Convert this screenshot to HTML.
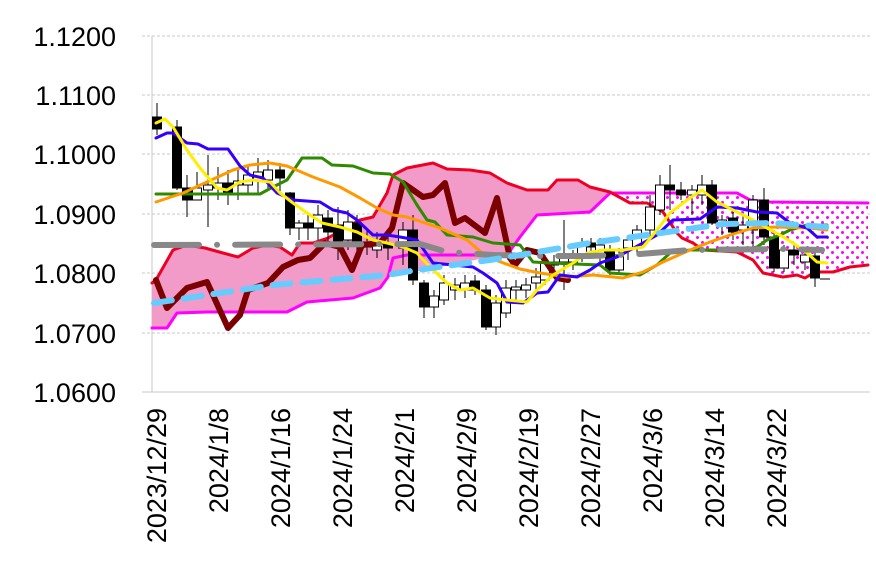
<!DOCTYPE html>
<html><head><meta charset="utf-8"><style>
html,body{margin:0;padding:0;background:#fff;}
svg{display:block;}
text{font-family:"Liberation Sans",Arial,sans-serif;fill:#000;}
</style></head><body>
<svg width="876" height="565" viewBox="0 0 876 565" xmlns="http://www.w3.org/2000/svg">
<defs>
<pattern id="dots" width="10" height="10" patternUnits="userSpaceOnUse">
<rect width="10" height="10" fill="#fff"/>
<circle cx="2.5" cy="2.5" r="1.5" fill="#ff00ff"/>
<circle cx="7.5" cy="7.5" r="1.5" fill="#ff00ff"/>
</pattern>
<clipPath id="cl"><rect x="150" y="0" width="460" height="400"/></clipPath>
<clipPath id="cr"><rect x="610" y="0" width="270" height="400"/></clipPath>
</defs>
<g stroke="#c8c8c8" stroke-width="1" stroke-dasharray="3,2">
<line x1="142" y1="36" x2="870" y2="36"/>
<line x1="142" y1="95" x2="870" y2="95"/>
<line x1="142" y1="154" x2="870" y2="154"/>
<line x1="142" y1="214" x2="870" y2="214"/>
<line x1="142" y1="273" x2="870" y2="273"/>
<line x1="142" y1="333" x2="870" y2="333"/>
</g>
<line x1="142" y1="392" x2="870" y2="392" stroke="#c8c8c8"/>
<line x1="152" y1="36" x2="152" y2="392" stroke="#c8c8c8"/>
<g font-size="27" text-anchor="end">
<text x="116" y="46">1.1200</text>
<text x="116" y="105">1.1100</text>
<text x="116" y="164">1.1000</text>
<text x="116" y="224">1.0900</text>
<text x="116" y="283">1.0800</text>
<text x="116" y="343">1.0700</text>
<text x="116" y="402">1.0600</text>
</g>
<g font-size="27" text-anchor="end">
<text transform="translate(166,408) rotate(-90)">2023/12/29</text>
<text transform="translate(228,408) rotate(-90)">2024/1/8</text>
<text transform="translate(290,408) rotate(-90)">2024/1/16</text>
<text transform="translate(352,408) rotate(-90)">2024/1/24</text>
<text transform="translate(414,408) rotate(-90)">2024/2/1</text>
<text transform="translate(476,408) rotate(-90)">2024/2/9</text>
<text transform="translate(538,408) rotate(-90)">2024/2/19</text>
<text transform="translate(600,408) rotate(-90)">2024/2/27</text>
<text transform="translate(662,408) rotate(-90)">2024/3/6</text>
<text transform="translate(724,408) rotate(-90)">2024/3/14</text>
<text transform="translate(786,408) rotate(-90)">2024/3/22</text>
</g>
<polygon clip-path="url(#cl)" fill="#f29ac8" points="152,283 156,280 173,250 187,245 205,248 223,253 238,257 253,248 267,245 280,247 292,255 300,243 313,243 328,238 347,227 360,220 373,217 387,193 393,175 407,168 433,163 447,169 470,170 490,173 507,183 527,190 548,190 557,180 578,180 590,187 610,192 630,203 647,203 663,212 677,233 682,238 693,243 703,250 737,252 753,260 763,273 783,277 797,275 805,278 815,272 833,272 850,267 868,265 868,203 770,202 750,200 737,193 610,193 590,212 537,215 503,257 490,257 388,277 380,288 353,298 307,302 287,312 207,312 177,313 167,328 152,328"/>
<polygon clip-path="url(#cr)" fill="url(#dots)" points="610,192 630,203 647,203 663,212 677,233 682,238 693,243 703,250 737,252 753,260 763,273 783,277 797,275 805,278 815,272 833,272 850,267 868,265 868,203 770,202 750,200 737,193 610,193"/>
<g fill="none" stroke-linejoin="round" stroke-linecap="round">
<polyline stroke="#ff00ff" stroke-width="3" points="152,328 167,328 177,313 207,312 287,312 307,302 353,298 380,288 388,277 393,258 407,255 507,255 520,237 537,215 590,212 610,193 737,193 750,200 770,202 868,203"/>
<polyline stroke="#ee0022" stroke-width="3" points="152,283 156,280 173,250 187,245 205,248 223,253 238,257 253,248 267,245 280,247 292,255 300,243 313,243 328,238 347,227 360,220 373,217 387,193 393,175 407,168 433,163 447,169 470,170 490,173 507,183 527,190 548,190 557,180 578,180 590,187 610,192 630,203 647,203 663,212 677,233 682,238 693,243 703,250 737,252 753,260 763,273 783,277 797,275 805,278 815,272 833,272 850,267 868,265"/>
</g>
<g stroke="#000" stroke-width="1">
<line x1="157" y1="103" x2="157" y2="135"/><rect x="152.5" y="117" width="9" height="12" fill="#000"/>
<line x1="177" y1="120" x2="177" y2="190"/><rect x="172.5" y="127" width="9" height="61" fill="#000"/>
<line x1="187" y1="175" x2="187" y2="217"/><rect x="182.5" y="188" width="9" height="12" fill="#000"/>
<line x1="197" y1="172" x2="197" y2="200"/><rect x="192.5" y="188" width="9" height="12" fill="#fff"/>
<line x1="208" y1="155" x2="208" y2="227"/><rect x="203.5" y="185" width="9" height="5" fill="#fff"/>
<line x1="218" y1="167" x2="218" y2="200"/><rect x="213.5" y="183" width="9" height="5" fill="#fff"/>
<line x1="228" y1="170" x2="228" y2="205"/><rect x="223.5" y="183" width="9" height="10" fill="#000"/>
<line x1="238" y1="168" x2="238" y2="200"/><rect x="233.5" y="181" width="9" height="4" fill="#fff"/>
<line x1="248" y1="165" x2="248" y2="195"/><rect x="243.5" y="175" width="9" height="10" fill="#fff"/>
<line x1="258" y1="158" x2="258" y2="195"/><rect x="253.5" y="172" width="9" height="8" fill="#fff"/>
<line x1="268" y1="160" x2="268" y2="190"/><rect x="263.5" y="170" width="9" height="10" fill="#fff"/>
<line x1="280" y1="163" x2="280" y2="195"/><rect x="275.5" y="170" width="9" height="8" fill="#000"/>
<line x1="290" y1="192" x2="290" y2="235"/><rect x="285.5" y="193" width="9" height="35" fill="#000"/>
<line x1="299" y1="220" x2="299" y2="240"/><rect x="294.5" y="223" width="9" height="5" fill="#fff"/>
<line x1="308" y1="215" x2="308" y2="240"/><rect x="303.5" y="223" width="9" height="5" fill="#000"/>
<line x1="318" y1="205" x2="318" y2="240"/><rect x="313.5" y="215" width="9" height="13" fill="#fff"/>
<line x1="328" y1="210" x2="328" y2="245"/><rect x="323.5" y="218" width="9" height="14" fill="#000"/>
<line x1="338" y1="207" x2="338" y2="260"/><rect x="333.5" y="225" width="9" height="17" fill="#000"/>
<line x1="348" y1="210" x2="348" y2="250"/><rect x="343.5" y="222" width="9" height="18" fill="#fff"/>
<line x1="357" y1="215" x2="357" y2="262"/><rect x="352.5" y="223" width="9" height="22" fill="#000"/>
<line x1="367" y1="230" x2="367" y2="255"/><rect x="362.5" y="242" width="9" height="5" fill="#000"/>
<line x1="377" y1="232" x2="377" y2="258"/><rect x="372.5" y="244" width="9" height="6" fill="#fff"/>
<line x1="388" y1="230" x2="388" y2="260"/><rect x="383.5" y="244" width="9" height="4" fill="#000"/>
<line x1="403" y1="222" x2="403" y2="265"/><rect x="398.5" y="230" width="9" height="18" fill="#fff"/>
<line x1="413" y1="215" x2="413" y2="285"/><rect x="408.5" y="230" width="9" height="50" fill="#000"/>
<line x1="424" y1="280" x2="424" y2="318"/><rect x="419.5" y="283" width="9" height="24" fill="#000"/>
<line x1="434" y1="290" x2="434" y2="318"/><rect x="429.5" y="296" width="9" height="11" fill="#fff"/>
<line x1="444" y1="275" x2="444" y2="305"/><rect x="439.5" y="283" width="9" height="17" fill="#fff"/>
<line x1="455" y1="278" x2="455" y2="300"/><rect x="450.5" y="285" width="9" height="5" fill="#fff"/>
<line x1="465" y1="275" x2="465" y2="298"/><rect x="460.5" y="283" width="9" height="7" fill="#fff"/>
<line x1="475" y1="275" x2="475" y2="295"/><rect x="470.5" y="281" width="9" height="9" fill="#000"/>
<line x1="486" y1="285" x2="486" y2="330"/><rect x="481.5" y="290" width="9" height="37" fill="#000"/>
<line x1="496" y1="295" x2="496" y2="335"/><rect x="491.5" y="303" width="9" height="24" fill="#fff"/>
<line x1="506" y1="280" x2="506" y2="318"/><rect x="501.5" y="288" width="9" height="25" fill="#fff"/>
<line x1="516" y1="280" x2="516" y2="300"/><rect x="511.5" y="287" width="9" height="3" fill="#fff"/>
<line x1="526" y1="278" x2="526" y2="298"/><rect x="521.5" y="285" width="9" height="5" fill="#fff"/>
<line x1="536" y1="268" x2="536" y2="290"/><rect x="531.5" y="277" width="9" height="6" fill="#fff"/>
<line x1="545" y1="255" x2="545" y2="285"/><rect x="540.5" y="262" width="9" height="18" fill="#fff"/>
<line x1="554" y1="255" x2="554" y2="272"/><rect x="549.5" y="262" width="9" height="3" fill="#fff"/>
<line x1="564" y1="220" x2="564" y2="290"/><rect x="559.5" y="258" width="9" height="4" fill="#fff"/>
<line x1="573" y1="250" x2="573" y2="270"/><rect x="568.5" y="258" width="9" height="4" fill="#fff"/>
<line x1="582" y1="238" x2="582" y2="262"/><rect x="577.5" y="245" width="9" height="10" fill="#fff"/>
<line x1="591" y1="238" x2="591" y2="255"/><rect x="586.5" y="243" width="9" height="4" fill="#000"/>
<line x1="600" y1="238" x2="600" y2="262"/><rect x="595.5" y="245" width="9" height="10" fill="#fff"/>
<line x1="610" y1="245" x2="610" y2="275"/><rect x="605.5" y="250" width="9" height="20" fill="#000"/>
<line x1="619" y1="248" x2="619" y2="275"/><rect x="614.5" y="255" width="9" height="15" fill="#fff"/>
<line x1="628" y1="235" x2="628" y2="260"/><rect x="623.5" y="240" width="9" height="8" fill="#fff"/>
<line x1="637" y1="225" x2="637" y2="255"/><rect x="632.5" y="230" width="9" height="18" fill="#fff"/>
<line x1="650" y1="195" x2="650" y2="240"/><rect x="645.5" y="207" width="9" height="23" fill="#fff"/>
<line x1="660" y1="175" x2="660" y2="215"/><rect x="655.5" y="185" width="9" height="25" fill="#fff"/>
<line x1="670" y1="165" x2="670" y2="210"/><rect x="665.5" y="185" width="9" height="5" fill="#000"/>
<line x1="681" y1="182" x2="681" y2="200"/><rect x="676.5" y="190" width="9" height="5" fill="#000"/>
<line x1="692" y1="185" x2="692" y2="215"/><rect x="687.5" y="190" width="9" height="5" fill="#fff"/>
<line x1="702" y1="175" x2="702" y2="205"/><rect x="697.5" y="185" width="9" height="10" fill="#fff"/>
<line x1="712" y1="180" x2="712" y2="225"/><rect x="707.5" y="185" width="9" height="38" fill="#000"/>
<line x1="722" y1="215" x2="722" y2="235"/><rect x="717.5" y="220" width="9" height="5" fill="#fff"/>
<line x1="733" y1="210" x2="733" y2="240"/><rect x="728.5" y="218" width="9" height="14" fill="#000"/>
<line x1="743" y1="215" x2="743" y2="245"/><rect x="738.5" y="225" width="9" height="5" fill="#fff"/>
<line x1="753" y1="195" x2="753" y2="250"/><rect x="748.5" y="200" width="9" height="30" fill="#fff"/>
<line x1="764" y1="188" x2="764" y2="245"/><rect x="759.5" y="200" width="9" height="37" fill="#000"/>
<line x1="774" y1="230" x2="774" y2="272"/><rect x="769.5" y="237" width="9" height="31" fill="#000"/>
<line x1="784" y1="245" x2="784" y2="272"/><rect x="779.5" y="250" width="9" height="18" fill="#fff"/>
<line x1="794" y1="245" x2="794" y2="265"/><rect x="789.5" y="250" width="9" height="5" fill="#000"/>
<line x1="805" y1="250" x2="805" y2="270"/><rect x="800.5" y="255" width="9" height="7" fill="#fff"/>
<line x1="815" y1="252" x2="815" y2="287"/><rect x="810.5" y="256" width="9" height="22" fill="#000"/>
<line x1="820" y1="279" x2="830" y2="279"/>
</g>
<g fill="none" stroke-linejoin="round" stroke-linecap="round">
<polyline stroke="#7b0000" stroke-width="6" points="156,280 167,308 187,288 207,282 228,328 240,315 248,290 268,283 283,267 298,260 310,258 325,243 340,247 352,270 362,245 380,243 392,228 403,183 423,197 433,195 445,183 455,223 465,218 485,233 497,198 510,258 515,265 527,250 540,253 557,278 568,280"/>
<polyline stroke="#2f8a00" stroke-width="3" points="156,194 260,194 273,187 287,180 302,158 322,158 332,165 353,166 373,173 390,174 403,182 417,205 427,220 435,222 447,235 473,237 493,243 520,245 533,262 550,263 600,265 610,273 640,275 657,265 670,253 690,250 743,250 757,247 767,240 780,235 790,230 807,225 827,225"/>
<polyline stroke="#ff9900" stroke-width="3" points="156,202 183,193 207,182 233,170 250,165 270,163 287,166 313,177 340,187 360,198 377,208 393,215 407,217 440,228 467,240 487,257 520,269 540,273 567,277 593,275 623,278 643,272 663,262 690,250 710,242 730,235 753,228 777,227 810,228 827,230"/>
<polyline stroke="#3300ff" stroke-width="3" points="156,138 167,133 173,133 187,143 198,144 208,149 228,149 240,166 250,175 263,178 277,193 293,200 320,202 333,210 347,213 357,220 373,235 387,235 400,237 417,240 433,263 473,267 483,273 497,283 507,302 523,303 537,293 548,292 560,275 577,277 590,270 600,263 617,257 630,250 643,243 657,235 673,220 700,219 717,207 737,208 757,212 777,213 790,223 807,228 817,237 827,237"/>
<polyline stroke="#ffee00" stroke-width="3" points="156,123 165,119 173,127 187,150 200,168 217,188 227,190 240,182 253,180 270,182 280,193 293,203 310,215 322,223 340,227 357,232 373,240 387,243 403,247 417,253 430,267 447,283 460,290 473,288 490,298 507,300 527,302 537,290 553,275 573,263 587,253 603,250 623,250 643,247 657,230 670,213 687,200 702,190 717,202 733,210 753,220 767,228 780,235 793,243 807,253 817,262 827,263"/>
<polyline stroke="#888" stroke-width="6" stroke-dasharray="45,18,0.1,18" points="154,245 420,244 447,252 493,255 540,256 590,256 640,254 690,250 783,249 822,250"/>
<polyline stroke="#66ccff" stroke-width="6" stroke-dasharray="18,12" points="154,303 273,285 387,275 417,270 490,260 520,255 590,243 647,235 723,224 773,223 827,227"/>
</g>
</svg>
</body></html>
